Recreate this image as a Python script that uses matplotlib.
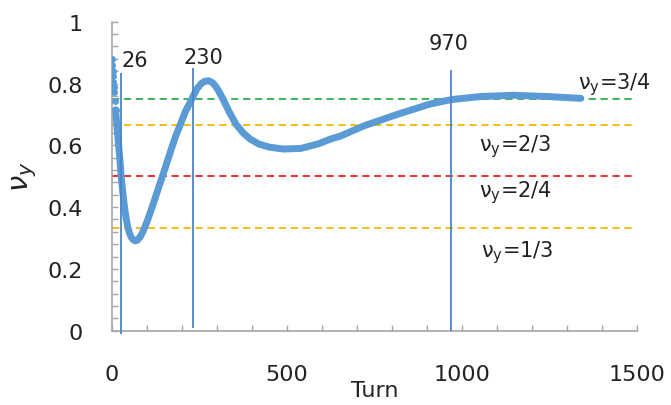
import numpy as np
import matplotlib.pyplot as plt
from matplotlib.ticker import MultipleLocator

# vertical tune vs turn number
turn = [0, 1, 2, 3, 4, 5, 6, 8, 10, 12, 15, 18, 20, 23, 26, 30, 35, 40, 45,
        50, 55, 60, 66, 72, 80, 90, 100, 110, 120, 135, 147, 157, 170, 182,
        195, 210, 228, 242, 255, 265, 276, 287, 297, 305, 317, 335, 355, 375,
        395, 420, 450, 490, 540, 590, 624, 653, 720, 815, 910, 970, 1053,
        1150, 1244, 1340]
nu_y = [0.880, 0.860, 0.841, 0.823, 0.806, 0.790, 0.774, 0.744, 0.715,
        0.688, 0.648, 0.610, 0.585, 0.545, 0.500, 0.455, 0.405, 0.365,
        0.335, 0.315, 0.302, 0.295, 0.291, 0.293, 0.303, 0.325, 0.353,
        0.385, 0.418, 0.470, 0.510, 0.545, 0.590, 0.630, 0.667, 0.710,
        0.750, 0.782, 0.800, 0.807, 0.809, 0.803, 0.790, 0.775, 0.750,
        0.708, 0.667, 0.640, 0.620, 0.604, 0.594, 0.588, 0.590, 0.605,
        0.620, 0.630, 0.663, 0.700, 0.734, 0.748, 0.758, 0.762, 0.758,
        0.752]

# resonance lines
res_vals = [3/4, 2/3, 2/4, 1/3]
res_colors = ['#2EAF4E', '#F5B800', '#F01E1E', '#F5B800']
res_labels = ['3/4', '2/3', '2/4', '1/3']
res_label_x = [1331, 1048, 1048, 1054]
res_label_y = [0.80, 0.60, 0.45, 0.255]

# marked turns
mark_turns = [26, 230, 970]
mark_ymin = [-0.012, 0.01, 0.0]
mark_ymax = [0.835, 0.85, 0.845]
mark_text_x = [26, 262, 962]
mark_text_y = [0.845, 0.855, 0.90]
mark_ha = ['left', 'center', 'center']

blue = '#5B9BD5'
gray = '#A6A6A6'

fig = plt.figure(figsize=(6.71, 4.06), dpi=100)
ax = fig.add_axes([0.167, 0.183, 0.782, 0.761])

for v, c in zip(res_vals, res_colors):
    ax.hlines(v, 0, 1485, colors=c, linestyles=(0, (4, 2.6)), linewidth=1.3,
              zorder=2)

# first turns are far apart vertically, so they show as single dots
n_early = sum(t <= 10 for t in turn)
ax.plot(turn[n_early - 1:], nu_y[n_early - 1:], color=blue, lw=5,
        solid_joinstyle='round', solid_capstyle='round', zorder=3)
ax.plot(turn[:n_early], nu_y[:n_early], 'o', color=blue, ms=4, zorder=3)

ax.vlines(mark_turns, mark_ymin, mark_ymax, colors='#4A86C8', linewidth=1.3,
          zorder=4, clip_on=False)
for x, y, t, ha in zip(mark_text_x, mark_text_y, mark_turns, mark_ha):
    ax.text(x, y, str(t), ha=ha, va='bottom', fontsize=15, color='#222222')

for lx, ly, lab in zip(res_label_x, res_label_y, res_labels):
    ax.text(lx, ly, 'ν$_\\mathregular{y}$=' + lab, ha='left', va='center',
            fontsize=15, color='#222222')

ax.set_xlim(0, 1500)
ax.set_ylim(0, 1)
ax.xaxis.set_major_locator(MultipleLocator(500))
ax.xaxis.set_minor_locator(MultipleLocator(100))
ax.yaxis.set_minor_locator(MultipleLocator(0.04))
ax.set_yticks([0, 0.2, 0.4, 0.6, 0.8, 1])
ax.set_yticklabels(['0', '0.2', '0.4', '0.6', '0.8', '1'])

for s in ['top', 'right']:
    ax.spines[s].set_visible(False)
for s in ['left', 'bottom']:
    ax.spines[s].set_color(gray)
    ax.spines[s].set_linewidth(1.2)

ax.tick_params(axis='both', which='both', direction='in', length=4.5,
               width=1, color=gray, labelcolor='#222222')
ax.tick_params(axis='x', which='major', labelsize=16, pad=24)
ax.tick_params(axis='y', which='major', labelsize=16, pad=21)

ax.set_xlabel('Turn', fontsize=16, labelpad=-3, color='#222222')
ax.set_ylabel(r'$\nu_y$', fontsize=21, labelpad=6, color='#222222')

fig.savefig('out.png', dpi=100)
